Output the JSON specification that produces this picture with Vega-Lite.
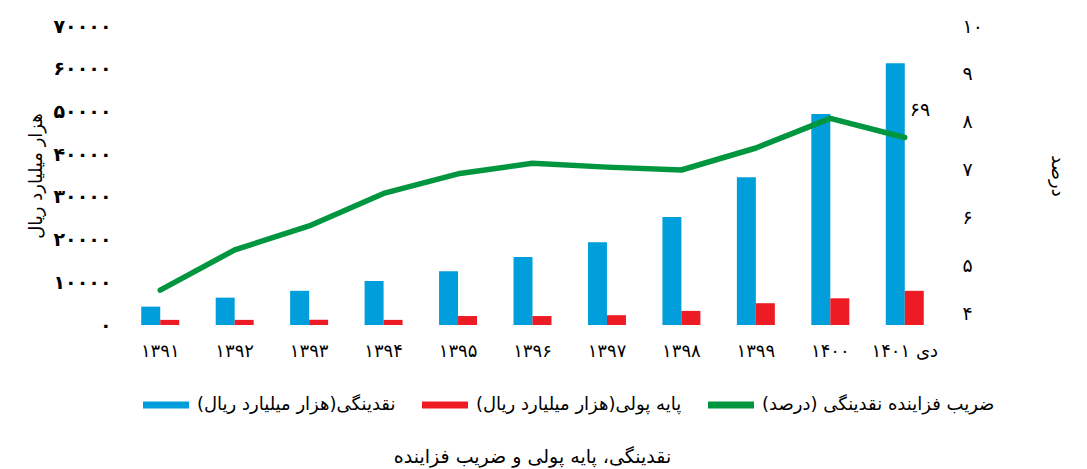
{
  "$schema": "https://vega.github.io/schema/vega-lite/v6.json",
  "autosize": {"type": "none"},
  "padding": {"left": 123, "top": 26, "right": 145, "bottom": 144},
  "width": 819,
  "height": 299,
  "background": "white",
  "config": {
    "view": {"stroke": null},
    "font": "DejaVu Sans",
    "axis": {"grid": false, "domain": false, "ticks": false, "tickSize": 0, "labelColor": "#000", "titleColor": "#000", "labelFont": "DejaVu Sans", "titleFont": "DejaVu Sans"}
  },
  "title": {
    "text": "نقدینگی، پایه پولی و ضریب فزاینده",
    "orient": "bottom",
    "anchor": "middle",
    "frame": "group",
    "fontSize": 19,
    "fontWeight": "normal",
    "color": "#000",
    "offset": 34,
    "dx": 0
  },
  "data": {
    "values": [
      {"year": "۱۳۹۱", "liq": 4300, "base": 1200, "mult": 4.48, "note": ""},
      {"year": "۱۳۹۲", "liq": 6400, "base": 1200, "mult": 5.32, "note": ""},
      {"year": "۱۳۹۳", "liq": 8000, "base": 1200, "mult": 5.82, "note": ""},
      {"year": "۱۳۹۴", "liq": 10300, "base": 1200, "mult": 6.5, "note": ""},
      {"year": "۱۳۹۵", "liq": 12600, "base": 2100, "mult": 6.91, "note": ""},
      {"year": "۱۳۹۶", "liq": 15900, "base": 2100, "mult": 7.13, "note": ""},
      {"year": "۱۳۹۷", "liq": 19400, "base": 2300, "mult": 7.05, "note": ""},
      {"year": "۱۳۹۸", "liq": 25300, "base": 3300, "mult": 6.99, "note": ""},
      {"year": "۱۳۹۹", "liq": 34600, "base": 5100, "mult": 7.45, "note": ""},
      {"year": "۱۴۰۰", "liq": 49400, "base": 6250, "mult": 8.07, "note": ""},
      {"year": "دی ۱۴۰۱", "liq": 61300, "base": 8000, "mult": 7.67, "note": "۶۹"}
    ]
  },
  "encoding": {
    "x": {
      "field": "year",
      "type": "nominal",
      "sort": null,
      "scale": {"paddingInner": 0.49, "paddingOuter": 0.245},
      "axis": {"title": null, "labelAngle": 0, "labelFontSize": 18, "labelPadding": 17}
    }
  },
  "layer": [
    {
      "transform": [{"fold": ["liq", "base"], "as": ["series", "amount"]}],
      "mark": {"type": "bar"},
      "encoding": {
        "xOffset": {"field": "series", "type": "nominal", "scale": {"domain": ["liq", "base"], "paddingInner": 0}},
        "y": {
          "field": "amount",
          "type": "quantitative",
          "scale": {"domain": [0, 70000], "nice": false},
          "axis": {
            "orient": "left",
            "title": "هزار میلیارد ریال",
            "titleFontSize": 18,
            "titleFontWeight": "normal",
            "titlePadding": 8,
            "values": [0, 10000, 20000, 30000, 40000, 50000, 60000, 70000],
            "labelFontSize": 19,
            "labelFontWeight": "bold",
            "labelPadding": 12,
            "labelExpr": "replace(replace(replace(replace(replace(replace(replace(replace(format(datum.value,'d'), regexp('0','g'), '۰'), regexp('1','g'), '۱'), regexp('2','g'), '۲'), regexp('3','g'), '۳'), regexp('4','g'), '۴'), regexp('5','g'), '۵'), regexp('6','g'), '۶'), regexp('7','g'), '۷')"
          }
        },
        "color": {
          "field": "series",
          "type": "nominal",
          "scale": {"domain": ["liq", "base", "mult"], "range": ["#009edb", "#ed1c24", "#00963f"]},
          "legend": {
            "orient": "none",
            "legendX": 20,
            "legendY": 356,
            "direction": "horizontal",
            "title": null,
            "labelFontSize": 18,
            "labelFont": "DejaVu Sans",
            "labelColor": "#000",
            "labelLimit": 400,
            "labelOffset": 8,
            "columnPadding": 26,
            "symbolType": "M-1,-0.15H1V0.15H-1Z",
            "symbolSize": 2116,
            "symbolStrokeWidth": 0,
            "labelExpr": "datum.value == 'liq' ? 'نقدینگی(هزار میلیارد ریال)' : datum.value == 'base' ? 'پایه پولی(هزار میلیارد ریال)' : 'ضریب فزاینده نقدینگی (درصد)'",
            "symbolOpacity": 1
          }
        }
      }
    },
    {
      "encoding": {
        "y": {
          "field": "mult",
          "type": "quantitative",
          "scale": {"domain": [3.75, 10], "nice": false, "zero": false},
          "axis": {
            "orient": "right",
            "title": "درصد",
            "titleFontSize": 18,
            "titleFontWeight": "normal",
            "titlePadding": 65,
            "values": [4, 5, 6, 7, 8, 9, 10],
            "labelFontSize": 19,
            "labelPadding": 20,
            "labelExpr": "replace(replace(replace(replace(replace(replace(replace(replace(format(datum.value,'d'), regexp('0','g'), '۰'), regexp('1','g'), '۱'), regexp('4','g'), '۴'), regexp('5','g'), '۵'), regexp('6','g'), '۶'), regexp('7','g'), '۷'), regexp('8','g'), '۸'), regexp('9','g'), '۹')"
          }
        }
      },
      "layer": [
        {
          "mark": {"type": "line", "strokeWidth": 5.5, "strokeCap": "round", "strokeJoin": "round"},
          "encoding": {"color": {"datum": "mult", "type": "nominal"}}
        },
        {
          "mark": {"type": "text", "align": "left", "baseline": "middle", "dx": 5, "dy": -27, "fontSize": 19, "color": "#000", "font": "DejaVu Sans"},
          "encoding": {"text": {"field": "note", "type": "nominal"}}
        }
      ]
    }
  ],
  "resolve": {"scale": {"y": "independent"}}
}
